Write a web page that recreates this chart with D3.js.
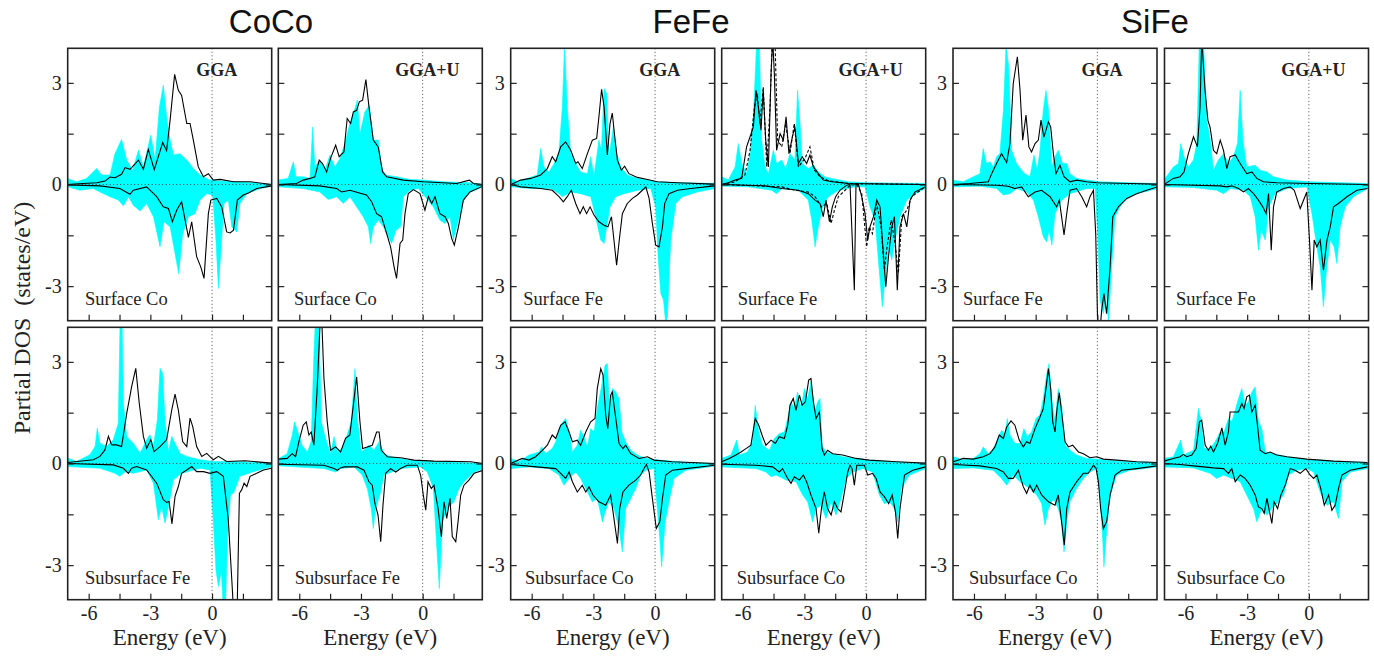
<!DOCTYPE html>
<html>
<head>
<meta charset="utf-8">
<script src="https://cdn.jsdelivr.net/npm/d3@7"></script>
<style>
  body { margin: 0; background: #fff; }
  svg { display: block; }
</style>
</head>
<body>
<div id="chart"></div>
<script>
// Partial DOS, [energy (eV), states/eV]; cyan = filled curve, black = line curve
// ---- CoCo ----
var coSurfGgaFillUp = [[-7.02,0.18],[-6.59,0.08],[-6.1,0.18],[-5.61,0.47],[-5.37,0.28],[-4.96,0.28],[-4.72,0.91],[-4.4,1.33],[-4.15,0.72],[-3.86,0.42],[-3.58,1.01],[-3.34,0.52],[-2.98,1.46],[-2.77,0.72],[-2.56,2.29],[-2.37,2.93],[-2.21,2.0],[-2.04,1.31],[-1.88,0.87],[-1.56,0.91],[-1.23,0.72],[-0.91,0.47],[-0.58,0.28],[-0.18,0.15],[0.23,0.11],[1.04,0.08],[2.01,0.05],[2.9,0.01]];
var coSurfGgaFillDn = [[-7.02,-0.07],[-6.42,-0.17],[-5.77,-0.12],[-5.45,-0.22],[-4.96,-0.36],[-4.56,-0.46],[-4.31,-0.63],[-4.07,-0.36],[-3.83,-0.61],[-3.5,-0.78],[-3.18,-0.56],[-2.85,-0.95],[-2.53,-1.84],[-2.34,-1.1],[-2.04,-1.25],[-1.8,-2.04],[-1.62,-2.63],[-1.43,-1.45],[-1.15,-0.95],[-0.83,-0.86],[-0.58,-0.46],[-0.26,-0.27],[0.03,-0.31],[0.19,-1.64],[0.31,-3.07],[0.44,-1.84],[0.58,-0.56],[0.79,-0.46],[0.96,-1.25],[1.2,-1.4],[1.36,-0.56],[1.69,-0.27],[2.34,-0.12],[2.9,-0.05]];
var coSurfGgaLineUp = [[-7.02,0],[-6.5,0.02],[-5.6,0.05],[-5.2,0.1],[-4.96,0.22],[-4.72,0.2],[-4.4,0.3],[-4.23,0.5],[-3.99,0.45],[-3.58,0.72],[-3.34,0.45],[-3.1,1.03],[-2.81,0.44],[-2.4,1.24],[-2.21,1.0],[-2.04,1.9],[-1.82,3.25],[-1.64,2.78],[-1.48,2.63],[-1.23,1.8],[-1.07,1.8],[-0.91,1.31],[-0.67,0.52],[-0.42,0.23],[-0.18,0.32],[0.06,0.13],[0.39,0.15],[1.04,0.08],[1.85,0.08],[2.9,0]];
var coSurfGgaLineDn = [[-7.02,-0.01],[-5.45,-0.04],[-4.48,-0.12],[-3.99,-0.29],[-3.83,-0.17],[-3.18,-0.07],[-2.69,-0.36],[-2.37,-0.66],[-2.12,-0.71],[-1.93,-1.1],[-1.72,-0.76],[-1.48,-0.51],[-1.15,-1.56],[-0.99,-1.1],[-0.75,-2.13],[-0.55,-2.43],[-0.39,-2.77],[-0.18,-0.86],[-0.06,-0.46],[0.23,-0.41],[0.47,-0.66],[0.71,-1.4],[0.88,-1.43],[1.04,-1.35],[1.23,-0.46],[1.52,-0.31],[1.77,-0.25],[2.17,-0.12],[2.9,-0.04]];

var coSurfUFillUp = [[-7.02,0.13],[-6.54,0.18],[-6.29,0.67],[-6.16,0.23],[-5.81,0.23],[-5.48,0.18],[-5.35,1.7],[-5.24,0.52],[-5.0,0.72],[-4.75,0.42],[-4.51,0.87],[-4.27,0.52],[-4.02,0.77],[-3.78,1.21],[-3.54,1.8],[-3.29,2.24],[-3.18,2.49],[-3.05,1.5],[-2.81,2.14],[-2.6,2.34],[-2.4,1.31],[-2.16,1.31],[-2.0,0.52],[-1.83,0.28],[-1.27,0.23],[-0.62,0.15],[0.03,0.13],[1.01,0.08],[2.3,0.05],[2.95,0.01]];
var coSurfUFillDn = [[-7.02,-0.07],[-5.81,-0.12],[-5.0,-0.22],[-4.59,-0.44],[-4.18,-0.36],[-3.86,-0.56],[-3.54,-0.36],[-3.21,-0.66],[-2.89,-0.95],[-2.64,-1.25],[-2.53,-1.74],[-2.4,-1.25],[-2.16,-1.05],[-1.91,-1.25],[-1.67,-1.54],[-1.51,-1.74],[-1.3,-1.35],[-1.07,-1.25],[-0.94,-0.36],[-0.62,-0.17],[-0.21,-0.12],[0.19,-0.41],[0.52,-0.66],[0.84,-1.05],[1.09,-1.15],[1.33,-0.95],[1.49,-1.64],[1.74,-1.05],[1.98,-0.46],[2.3,-0.22],[2.95,-0.07]];
var coSurfULineUp = [[-7.02,0],[-6.13,0.03],[-5.81,0.13],[-5.48,0.18],[-5.24,0.23],[-5.03,0.72],[-4.87,0.62],[-4.67,0.37],[-4.48,0.77],[-4.23,1.16],[-4.06,0.82],[-3.83,0.96],[-3.67,1.95],[-3.5,1.8],[-3.37,2.14],[-3.21,2.19],[-3.08,2.44],[-2.92,2.49],[-2.76,3.1],[-2.61,2.29],[-2.4,1.31],[-2.16,1.11],[-1.95,0.37],[-1.75,0.23],[-0.94,0.13],[0.03,0.08],[1.65,0.03],[2.27,0.13],[2.47,0.03],[2.95,0]];
var coSurfULineDn = [[-7.02,0],[-5.0,-0.04],[-4.18,-0.12],[-3.94,-0.22],[-3.54,-0.17],[-2.73,-0.31],[-2.48,-0.51],[-2.24,-0.86],[-2.0,-0.95],[-1.75,-1.45],[-1.56,-1.84],[-1.39,-2.43],[-1.27,-2.77],[-1.1,-1.74],[-0.97,-1.64],[-0.86,-0.86],[-0.7,-0.27],[-0.45,-0.15],[-0.13,-0.27],[0.11,-0.76],[0.28,-0.36],[0.44,-0.56],[0.6,-0.36],[0.84,-0.86],[1.09,-0.95],[1.25,-1.15],[1.41,-1.59],[1.54,-1.79],[1.74,-1.25],[1.98,-0.46],[2.3,-0.22],[2.95,-0.04]];

var coSubGgaFillUp = [[-7.02,0.16],[-6.59,0.06],[-5.94,0.26],[-5.69,0.5],[-5.58,1.04],[-5.45,0.6],[-5.13,0.5],[-4.8,0.7],[-4.56,1.19],[-4.47,4.3],[-4.38,4.3],[-4.31,1.78],[-4.15,0.8],[-3.83,0.6],[-3.5,0.3],[-3.18,0.7],[-3.02,0.85],[-2.85,0.5],[-2.66,1.29],[-2.53,2.81],[-2.4,2.66],[-2.29,1.29],[-2.12,0.35],[-1.96,0.8],[-1.8,0.6],[-1.56,0.3],[-1.23,0.21],[-0.58,0.11],[0.06,0.06],[1.04,0.06],[2.9,0.01]];
var coSubGgaFillDn = [[-7.02,-0.09],[-5.45,-0.14],[-4.72,-0.29],[-4.48,-0.38],[-4.23,-0.24],[-3.83,-0.29],[-3.18,-0.19],[-2.85,-0.58],[-2.61,-1.66],[-2.45,-1.27],[-2.29,-1.76],[-2.12,-1.27],[-1.88,-0.48],[-1.48,-0.29],[-0.58,-0.14],[-0.1,-0.19],[0.06,-1.66],[0.19,-3.14],[0.31,-3.63],[0.45,-3.2],[0.55,-4.3],[0.65,-4.3],[0.75,-2.2],[0.9,-0.9],[1.04,-0.88],[1.36,-0.38],[2.01,-0.24],[2.9,-0.09]];
var coSubGgaLineUp = [[-7.02,0.03],[-5.77,0.11],[-5.45,0.21],[-5.21,0.4],[-5.04,0.8],[-4.88,0.55],[-4.64,0.55],[-4.4,0.5],[-4.15,1.48],[-3.91,2.27],[-3.71,2.81],[-3.54,1.78],[-3.34,0.8],[-3.18,0.45],[-2.98,0.7],[-2.82,0.35],[-2.53,0.5],[-2.21,0.7],[-1.96,1.58],[-1.8,2.05],[-1.64,1.58],[-1.43,0.65],[-1.23,0.5],[-1.07,1.34],[-0.94,1.09],[-0.75,0.5],[-0.5,0.21],[-0.26,0.3],[0.06,0.11],[0.31,0.21],[0.71,0.06],[1.61,0.08],[2.9,0.01]];
var coSubGgaLineDn = [[-7.02,0],[-4.8,-0.04],[-4.31,-0.14],[-4.07,-0.29],[-3.91,-0.14],[-3.67,-0.09],[-3.18,-0.19],[-2.69,-0.58],[-2.37,-1.07],[-2.21,-1.15],[-2.09,-1.12],[-1.95,-1.78],[-1.8,-0.97],[-1.64,-0.68],[-1.48,-0.29],[-1.23,-0.19],[-0.99,-0.09],[-0.75,-0.24],[-0.42,-0.24],[-0.1,-0.29],[0.23,-0.24],[0.55,-0.38],[0.79,-1.66],[0.96,-3.43],[1.04,-4.3],[1.22,-4.3],[1.33,-0.88],[1.44,-0.78],[1.56,-0.58],[1.69,-0.68],[1.85,-0.38],[2.17,-0.29],[2.5,-0.19],[2.9,-0.14]];

var coSubUFillUp = [[-7.0,0.15],[-6.59,0.29],[-6.34,0.84],[-6.23,1.23],[-6.07,0.93],[-5.86,0.54],[-5.61,0.34],[-5.42,0.64],[-5.29,3.2],[-5.21,4.3],[-5.04,4.3],[-4.93,1.23],[-4.72,0.74],[-4.48,0.29],[-4.31,0.79],[-4.15,0.34],[-3.91,0.44],[-3.67,0.84],[-3.47,1.23],[-3.29,2.8],[-3.18,1.33],[-2.98,0.34],[-2.61,0.54],[-2.37,0.39],[-2.12,0.64],[-1.88,0.29],[-1.56,0.2],[-0.75,0.1],[0.06,0.07],[1.2,0.05],[2.95,0]];
var coSubUFillDn = [[-7.0,-0.07],[-4.8,-0.15],[-4.23,-0.25],[-3.99,-0.15],[-3.34,-0.1],[-2.94,-0.34],[-2.69,-0.74],[-2.5,-1.33],[-2.4,-1.92],[-2.29,-1.33],[-2.08,-0.93],[-1.88,-0.34],[-1.07,-0.15],[-0.1,-0.1],[0.23,-0.25],[0.52,-0.74],[0.71,-2.7],[0.81,-3.69],[0.96,-1.72],[1.2,-1.33],[1.52,-1.13],[1.77,-0.74],[2.01,-0.54],[2.5,-0.25],[2.95,-0.15]];
var coSubULineUp = [[-7.0,0.13],[-6.59,0.15],[-6.34,0.29],[-6.18,0.2],[-6.02,0.64],[-5.81,1.13],[-5.66,1.23],[-5.53,0.84],[-5.42,0.93],[-5.29,0.54],[-5.13,2.21],[-5.0,3.98],[-4.91,4.3],[-4.8,2.51],[-4.64,1.23],[-4.48,0.39],[-4.23,0.49],[-3.99,0.34],[-3.75,0.74],[-3.54,0.84],[-3.41,1.52],[-3.21,2.56],[-3.05,1.23],[-2.92,0.44],[-2.69,0.49],[-2.45,0.54],[-2.24,0.93],[-2.12,0.93],[-2.01,0.39],[-1.72,0.2],[-1.07,0.17],[-0.42,0.1],[0.55,0.07],[2.34,0.05],[2.95,0]];
var coSubULineDn = [[-7.0,-0.02],[-4.8,-0.05],[-4.31,-0.15],[-4.15,-0.2],[-3.99,-0.13],[-3.83,-0.1],[-3.18,-0.1],[-2.85,-0.2],[-2.61,-0.54],[-2.45,-0.64],[-2.32,-1.18],[-2.17,-1.52],[-2.04,-2.31],[-1.93,-1.23],[-1.8,-0.29],[-1.56,-0.15],[-1.31,-0.25],[-1.07,-0.15],[-0.75,-0.05],[-0.26,-0.05],[-0.1,-0.34],[0.03,-0.93],[0.15,-1.38],[0.26,-0.54],[0.42,-0.74],[0.55,-0.64],[0.75,-1.33],[0.91,-2.16],[1.04,-1.13],[1.17,-1.62],[1.33,-1.03],[1.44,-2.16],[1.61,-2.31],[1.72,-1.72],[1.85,-0.93],[2.01,-0.64],[2.25,-0.49],[2.5,-0.29],[2.95,-0.2]];

// ---- FeFe ----
var feSurfGgaFillUp = [[-7.0,0.18],[-6.7,0.08],[-6.21,0.18],[-5.73,0.28],[-5.56,1.06],[-5.4,0.52],[-5.16,0.37],[-4.91,0.62],[-4.67,0.96],[-4.51,2.29],[-4.4,4.1],[-4.27,2.29],[-4.1,0.91],[-3.86,0.62],[-3.62,0.37],[-3.29,0.32],[-3.13,0.82],[-2.97,0.23],[-2.73,1.31],[-2.61,1.01],[-2.48,2.83],[-2.35,2.68],[-2.24,0.82],[-2.03,1.7],[-1.87,0.91],[-1.67,0.52],[-1.35,0.28],[-0.86,0.18],[-0.37,0.13],[0.11,0.08],[1.41,0.05],[2.9,0.03]];
var feSurfGgaFillDn = [[-7.0,-0.07],[-6.05,-0.12],[-5.08,-0.12],[-4.67,-0.27],[-4.51,-0.36],[-4.1,-0.22],[-3.62,-0.27],[-3.13,-0.36],[-2.89,-0.95],[-2.64,-1.64],[-2.48,-1.74],[-2.35,-1.25],[-2.19,-0.66],[-1.91,-0.36],[-1.51,-0.27],[-0.86,-0.17],[-0.21,-0.12],[0.03,-0.66],[0.15,-2.13],[0.28,-3.22],[0.41,-3.41],[0.52,-4.1],[0.6,-3.9],[0.76,-1.64],[1.01,-0.56],[1.33,-0.36],[2.06,-0.22],[2.9,-0.12]];
var feSurfGgaLineUp = [[-7.0,0],[-6.54,0.13],[-6.05,0.18],[-5.56,0.28],[-5.24,0.47],[-5.0,0.82],[-4.83,0.67],[-4.59,1.11],[-4.35,1.26],[-4.1,1.01],[-3.86,0.62],[-3.75,0.67],[-3.54,0.47],[-3.29,0.91],[-3.05,1.31],[-2.84,1.36],[-2.73,2.0],[-2.6,2.81],[-2.48,2.29],[-2.32,0.87],[-2.19,1.8],[-2.08,2.11],[-1.96,1.41],[-1.83,0.72],[-1.64,0.42],[-1.48,0.54],[-1.27,0.32],[-0.86,0.21],[-0.37,0.15],[0.11,0.08],[1.09,0.05],[2.9,0.01]];
var feSurfGgaLineDn = [[-7.0,0],[-6.54,-0.07],[-5.56,-0.12],[-5.0,-0.17],[-4.67,-0.36],[-4.46,-0.51],[-4.27,-0.36],[-4.07,-0.17],[-3.86,-0.56],[-3.65,-0.86],[-3.49,-0.66],[-3.33,-0.86],[-3.16,-0.66],[-2.97,-0.9],[-2.73,-1.1],[-2.48,-1.2],[-2.29,-1.25],[-2.12,-0.95],[-2.0,-1.64],[-1.87,-2.38],[-1.74,-1.64],[-1.59,-0.86],[-1.35,-0.56],[-1.1,-0.41],[-0.86,-0.31],[-0.62,-0.17],[-0.45,-0.07],[-0.29,-0.41],[-0.13,-1.15],[0.03,-1.79],[0.19,-1.84],[0.36,-1.25],[0.47,-0.56],[0.68,-0.27],[1.09,-0.17],[1.74,-0.12],[2.9,-0.04]];

var feSurfUFillUp = [[-7.02,0.23],[-6.7,0.13],[-6.37,0.52],[-6.21,1.21],[-6.05,0.62],[-5.81,0.32],[-5.64,0.91],[-5.48,2.0],[-5.32,4.2],[-5.19,4.2],[-5.08,1.31],[-4.91,0.52],[-4.75,0.32],[-4.51,1.01],[-4.35,0.62],[-4.1,0.72],[-3.91,0.47],[-3.7,0.91],[-3.46,0.72],[-3.33,2.78],[-3.21,1.8],[-3.1,0.62],[-2.81,0.47],[-2.56,0.57],[-2.32,0.37],[-2.0,0.23],[-1.67,0.18],[-0.86,0.08],[0.11,0.05],[2.87,0.03]];
var feSurfUFillDn = [[-7.02,-0.05],[-5.73,-0.07],[-4.59,-0.17],[-4.35,-0.27],[-4.1,-0.12],[-3.29,-0.17],[-2.81,-0.46],[-2.64,-1.05],[-2.48,-1.84],[-2.32,-1.25],[-2.12,-0.66],[-1.83,-0.36],[-1.35,-0.17],[-0.54,-0.07],[-0.05,-0.07],[0.19,-0.66],[0.44,-1.05],[0.68,-2.82],[0.79,-3.61],[0.92,-2.82],[1.09,-1.84],[1.25,-2.23],[1.41,-1.64],[1.65,-0.95],[1.98,-0.46],[2.38,-0.27],[2.87,-0.12]];
var feSurfULineUp = [[-7.02,0],[-6.7,0.05],[-6.37,0.13],[-6.05,0.18],[-5.81,1.11],[-5.64,1.41],[-5.48,1.7],[-5.35,2.78],[-5.24,2.29],[-5.11,1.6],[-5.0,2.78],[-4.88,1.31],[-4.75,0.52],[-4.62,3.27],[-4.54,4.3],[-4.46,3.27],[-4.35,1.01],[-4.18,1.5],[-4.02,1.31],[-3.89,2.0],[-3.75,0.91],[-3.58,1.41],[-3.46,1.7],[-3.29,0.62],[-3.1,0.82],[-2.89,0.62],[-2.73,0.87],[-2.56,0.52],[-2.32,0.32],[-2.08,0.13],[-1.67,0.08],[-0.86,0.03],[2.87,0]];
var feSurfULineDn = [[-7.02,0],[-4.91,-0.04],[-4.1,-0.12],[-3.29,-0.17],[-2.81,-0.27],[-2.48,-0.46],[-2.24,-0.56],[-2.08,-0.95],[-1.95,-0.46],[-1.78,-1.1],[-1.64,-0.66],[-1.48,-0.36],[-1.27,-0.17],[-0.94,-0.02],[-0.78,0],[-0.67,-1.64],[-0.57,-3.12],[-0.49,0],[-0.37,0],[-0.21,-0.36],[-0.05,-0.86],[0.08,-1.64],[0.19,-1.25],[0.36,-0.95],[0.52,-0.46],[0.68,-0.66],[0.84,-2.04],[0.96,-3.02],[1.09,-2.13],[1.25,-1.25],[1.38,-0.95],[1.52,-3.12],[1.65,-1.25],[1.82,-0.86],[1.98,-1.25],[2.14,-0.46],[2.38,-0.22],[2.87,-0.07]];
var feSurfUDashUp = [[-7.02,0],[-6.37,0.08],[-5.89,0.28],[-5.64,1.01],[-5.43,2.29],[-5.29,2.68],[-5.16,1.8],[-5.0,2.88],[-4.83,0.52],[-4.67,2.29],[-4.56,4.3],[-4.43,4.3],[-4.3,1.31],[-4.1,1.11],[-3.91,1.8],[-3.7,0.91],[-3.49,1.8],[-3.29,0.52],[-2.97,0.77],[-2.73,1.11],[-2.51,0.42],[-2.24,0.23],[-1.83,0.11],[-0.86,0.03],[2.87,0]];
var feSurfUDashDn = [[-7.02,0],[-4.1,-0.07],[-3.46,-0.17],[-2.81,-0.22],[-2.48,-0.36],[-2.16,-0.66],[-1.91,-0.56],[-1.7,-1.15],[-1.54,-0.76],[-1.35,-0.36],[-1.02,-0.17],[-0.78,-0.02],[-0.45,0],[-0.21,-0.27],[0.03,-1.84],[0.15,-1.25],[0.31,-1.45],[0.52,-0.56],[0.73,-1.25],[0.89,-2.53],[1.02,-1.84],[1.22,-1.05],[1.41,-1.74],[1.57,-2.62],[1.74,-0.95],[1.98,-0.76],[2.22,-0.36],[2.87,-0.07]];

var feSubGgaFillUp = [[-7.02,0.15],[-6.62,0.05],[-6.13,0.25],[-5.64,0.34],[-5.52,0.49],[-5.32,0.29],[-5.0,0.44],[-4.83,0.64],[-4.59,1.13],[-4.35,1.33],[-4.18,0.93],[-4.02,0.34],[-3.78,0.54],[-3.62,0.98],[-3.46,0.79],[-3.29,0.49],[-3.13,1.03],[-2.97,0.93],[-2.81,1.62],[-2.56,2.41],[-2.43,2.9],[-2.32,2.95],[-2.21,1.52],[-2.08,2.21],[-1.91,2.11],[-1.75,1.92],[-1.62,0.93],[-1.43,0.64],[-1.18,0.39],[-0.86,0.25],[-0.45,0.15],[0.19,0.1],[1.17,0.05],[2.92,0]];
var feSubGgaFillDn = [[-7.02,-0.15],[-6.13,-0.1],[-5.16,-0.15],[-4.67,-0.34],[-4.43,-0.64],[-4.18,-0.44],[-3.86,-0.25],[-3.62,-0.44],[-3.37,-0.74],[-3.05,-1.13],[-2.81,-1.03],[-2.56,-1.72],[-2.43,-1.43],[-2.24,-1.13],[-2.0,-1.33],[-1.75,-1.92],[-1.59,-2.61],[-1.43,-1.33],[-1.18,-1.03],[-0.94,-0.74],[-0.7,-0.34],[-0.45,-0.2],[-0.05,-0.15],[0.11,-1.33],[0.23,-2.21],[0.32,-3.05],[0.49,-1.72],[0.71,-1.03],[0.92,-0.44],[1.49,-0.2],[2.92,-0.07]];
var feSubGgaLineUp = [[-7.02,0],[-6.46,0.15],[-6.13,0.1],[-5.81,0.2],[-5.48,0.39],[-5.24,0.54],[-5.0,0.84],[-4.83,0.74],[-4.59,1.13],[-4.38,1.23],[-4.18,0.93],[-4.02,0.64],[-3.78,0.69],[-3.62,0.54],[-3.37,0.93],[-3.13,1.23],[-2.92,1.33],[-2.81,2.21],[-2.64,2.8],[-2.53,2.61],[-2.4,1.43],[-2.3,1.03],[-2.16,2.02],[-2.08,2.11],[-1.91,1.33],[-1.75,0.59],[-1.56,0.44],[-1.43,0.54],[-1.18,0.29],[-0.78,0.15],[-0.37,0.2],[-0.05,0.1],[0.84,0.05],[2.92,0]];
var feSubGgaLineDn = [[-7.02,-0.03],[-6.29,-0.07],[-4.83,-0.15],[-4.59,-0.29],[-4.35,-0.44],[-4.18,-0.25],[-4.02,-0.54],[-3.78,-0.84],[-3.54,-0.64],[-3.37,-0.84],[-3.21,-0.69],[-3.02,-0.93],[-2.73,-1.13],[-2.4,-1.23],[-2.16,-0.93],[-2.0,-1.62],[-1.83,-2.36],[-1.72,-1.33],[-1.56,-0.84],[-1.27,-0.64],[-0.94,-0.49],[-0.7,-0.34],[-0.54,-0.15],[-0.42,-0.03],[-0.29,-0.25],[-0.13,-1.03],[0.06,-1.92],[0.23,-1.72],[0.36,-1.03],[0.52,-0.34],[0.84,-0.2],[1.49,-0.15],[2.92,-0.05]];

var feSubUFillUp = [[-7.02,0.15],[-6.57,0.25],[-6.29,0.69],[-6.16,0.25],[-5.76,0.34],[-5.52,0.64],[-5.39,1.72],[-5.22,0.93],[-5.03,0.54],[-4.7,0.39],[-4.46,0.74],[-4.22,0.88],[-3.97,0.93],[-3.81,1.33],[-3.65,1.82],[-3.49,1.62],[-3.33,2.11],[-3.16,1.62],[-3.0,2.21],[-2.84,1.92],[-2.68,2.41],[-2.51,1.52],[-2.35,1.82],[-2.24,1.92],[-2.14,0.54],[-1.95,0.34],[-1.62,0.29],[-1.14,0.2],[-0.49,0.15],[0.16,0.1],[1.46,0.05],[2.89,0]];
var feSubUFillDn = [[-7.02,-0.1],[-5.35,-0.15],[-4.87,-0.25],[-4.62,-0.39],[-4.38,-0.34],[-3.89,-0.49],[-3.41,-0.54],[-3.08,-0.93],[-2.84,-1.13],[-2.6,-1.72],[-2.43,-1.33],[-2.19,-1.23],[-1.95,-1.62],[-1.7,-1.13],[-1.46,-1.52],[-1.22,-1.03],[-0.97,-0.44],[-0.65,-0.25],[-0.16,-0.15],[0.32,-0.25],[0.65,-0.93],[0.89,-1.18],[1.14,-1.13],[1.38,-1.33],[1.54,-1.72],[1.7,-0.74],[2.11,-0.34],[2.89,-0.15]];
var feSubULineUp = [[-7.02,0.05],[-6.65,0.15],[-6.33,0.25],[-6.08,0.34],[-5.84,0.44],[-5.6,0.54],[-5.39,1.33],[-5.22,1.13],[-5.06,0.84],[-4.87,0.54],[-4.62,0.69],[-4.41,0.59],[-4.22,0.79],[-3.97,0.74],[-3.81,1.13],[-3.7,1.72],[-3.54,1.92],[-3.41,1.57],[-3.24,2.02],[-3.11,1.72],[-2.95,1.82],[-2.79,2.46],[-2.68,2.51],[-2.56,1.82],[-2.43,1.33],[-2.27,1.52],[-2.14,0.44],[-2.03,0.25],[-1.87,0.39],[-1.62,0.29],[-1.14,0.25],[-0.49,0.15],[0.16,0.1],[1.46,0.05],[2.89,0.01]];
var feSubULineDn = [[-7.02,-0.02],[-5.35,-0.05],[-4.54,-0.1],[-4.22,-0.25],[-4.06,-0.15],[-3.81,-0.44],[-3.65,-0.59],[-3.49,-0.39],[-3.24,-0.49],[-3.05,-0.34],[-2.89,-0.54],[-2.68,-0.93],[-2.43,-1.33],[-2.3,-2.06],[-2.17,-1.33],[-2.03,-0.84],[-1.87,-1.33],[-1.7,-1.52],[-1.54,-1.13],[-1.38,-1.33],[-1.22,-1.43],[-1.05,-0.84],[-0.89,-0.25],[-0.78,-0.05],[-0.68,-0.15],[-0.57,-0.64],[-0.45,-0.05],[-0.08,-0.05],[0.08,-0.34],[0.32,-0.29],[0.49,-0.44],[0.68,-0.84],[0.89,-0.98],[1.1,-1.18],[1.27,-0.93],[1.43,-1.43],[1.54,-2.21],[1.65,-1.33],[1.87,-0.34],[2.27,-0.2],[2.89,-0.1]];

// ---- SiFe ----
var siSurfGgaFillUp = [[-7.04,0.13],[-6.52,0.08],[-6.03,0.23],[-5.71,0.32],[-5.55,1.06],[-5.39,0.62],[-5.22,0.67],[-5.06,0.52],[-4.9,0.82],[-4.74,0.91],[-4.57,2.19],[-4.44,4.1],[-4.31,3.47],[-4.17,1.01],[-3.93,0.62],[-3.68,0.42],[-3.52,0.32],[-3.28,0.23],[-3.08,0.87],[-2.92,0.42],[-2.79,1.01],[-2.63,2.19],[-2.5,2.78],[-2.37,2.19],[-2.22,0.52],[-2.06,0.82],[-1.9,1.01],[-1.69,0.62],[-1.49,0.62],[-1.33,0.32],[-1.01,0.18],[-0.52,0.13],[0.13,0.08],[1.59,0.05],[2.92,0.03]];
var siSurfGgaFillDn = [[-7.04,-0.07],[-5.71,-0.05],[-4.9,-0.12],[-4.57,-0.31],[-4.25,-0.27],[-3.93,-0.12],[-3.44,-0.22],[-3.11,-0.46],[-2.87,-0.95],[-2.63,-1.54],[-2.47,-1.69],[-2.34,-1.35],[-2.21,-1.79],[-2.06,-0.86],[-1.74,-0.46],[-1.33,-0.27],[-0.52,-0.12],[-0.11,-0.12],[0.02,-1.45],[0.13,-3.41],[0.29,-3.81],[0.45,-3.22],[0.54,-4.1],[0.7,-2.43],[0.86,-0.95],[1.1,-0.66],[1.35,-0.46],[1.91,-0.27],[2.92,-0.12]];
var siSurfGgaLineUp = [[-7.04,0],[-6.2,0.03],[-5.3,0.08],[-5.14,0.32],[-4.9,0.62],[-4.66,0.91],[-4.41,0.65],[-4.25,1.21],[-4.09,2.98],[-3.89,3.77],[-3.76,2.78],[-3.63,1.31],[-3.47,2.05],[-3.33,1.11],[-3.2,0.96],[-3.03,1.21],[-2.87,1.31],[-2.74,1.9],[-2.6,1.4],[-2.38,1.85],[-2.27,1.7],[-2.14,0.91],[-2.01,0.32],[-1.82,0.57],[-1.62,0.23],[-1.33,0.08],[-1.01,0.13],[-0.52,0.08],[-0.03,0.05],[1.59,0.03],[2.92,0.01]];
var siSurfGgaLineDn = [[-7.04,0],[-4.9,-0.02],[-4.33,-0.05],[-4.01,-0.12],[-3.68,-0.07],[-3.36,-0.36],[-3.03,-0.22],[-2.71,-0.17],[-2.3,-0.36],[-1.98,-0.66],[-1.85,-0.46],[-1.74,-0.95],[-1.62,-1.49],[-1.49,-0.86],[-1.33,-0.17],[-1.01,-0.12],[-0.76,-0.36],[-0.52,-0.66],[-0.36,-0.36],[-0.19,-0.17],[-0.08,-1.45],[0.02,-4.3],[0.13,-4.3],[0.21,-3.71],[0.32,-3.22],[0.45,-3.81],[0.62,-2.43],[0.75,-0.95],[1.02,-0.66],[1.43,-0.41],[1.91,-0.27],[2.4,-0.17],[2.92,-0.07]];

var siSurfUFillUp = [[-7.04,0.13],[-6.59,0.52],[-6.34,0.62],[-6.23,1.21],[-6.07,0.82],[-5.86,0.52],[-5.61,0.72],[-5.45,1.21],[-5.32,4.3],[-5.13,4.3],[-4.96,1.9],[-4.8,1.31],[-4.64,0.42],[-4.4,0.72],[-4.15,0.91],[-3.91,0.62],[-3.67,0.82],[-3.47,1.21],[-3.34,2.78],[-3.21,1.31],[-3.02,0.52],[-2.61,0.57],[-2.37,0.42],[-2.04,0.37],[-1.72,0.23],[-1.07,0.13],[0.06,0.08],[2.85,0.03]];
var siSurfUFillDn = [[-7.04,-0.07],[-5.61,-0.09],[-4.48,-0.17],[-4.15,-0.27],[-3.83,-0.12],[-3.18,-0.17],[-2.85,-0.36],[-2.61,-0.95],[-2.45,-1.94],[-2.32,-1.35],[-2.12,-1.64],[-1.96,-0.66],[-1.64,-0.27],[-1.07,-0.12],[-0.1,-0.07],[0.15,-0.86],[0.39,-1.84],[0.55,-2.43],[0.71,-3.61],[0.84,-2.63],[1.04,-1.64],[1.23,-1.84],[1.36,-2.33],[1.52,-1.25],[1.77,-0.66],[2.17,-0.36],[2.85,-0.12]];
var siSurfULineUp = [[-7.04,0],[-6.59,0.18],[-6.26,0.23],[-6.07,0.37],[-5.86,0.91],[-5.61,1.41],[-5.42,1.11],[-5.29,2.29],[-5.21,4.3],[-5.05,2.78],[-4.91,1.9],[-4.8,1.68],[-4.64,1.01],[-4.48,0.91],[-4.31,1.31],[-4.15,1.01],[-3.99,0.47],[-3.83,0.82],[-3.58,0.87],[-3.34,0.62],[-3.02,0.32],[-2.77,0.37],[-2.53,0.18],[-2.21,0.08],[-1.56,0.05],[0.06,0.03],[2.85,0]];
var siSurfULineDn = [[-7.04,0],[-4.31,-0.04],[-3.99,-0.07],[-3.75,-0.04],[-3.42,-0.12],[-3.18,-0.22],[-2.94,-0.12],[-2.69,-0.27],[-2.45,-0.46],[-2.24,-0.66],[-2.08,-0.86],[-1.96,-0.27],[-1.83,-1.94],[-1.72,-0.66],[-1.56,-0.22],[-1.23,-0.12],[-0.91,-0.07],[-0.71,-0.17],[-0.42,-0.71],[-0.1,-0.22],[0.03,-1.64],[0.15,-3.12],[0.26,-1.64],[0.39,-1.84],[0.55,-1.64],[0.71,-2.53],[0.88,-1.64],[1.04,-1.25],[1.2,-0.66],[1.44,-0.56],[1.85,-0.36],[2.34,-0.17],[2.85,-0.12]];

var siSubGgaFillUp = [[-7.0,0.2],[-6.52,0.1],[-6.03,0.15],[-5.71,0.29],[-5.55,0.49],[-5.3,0.29],[-5.06,0.44],[-4.82,0.74],[-4.66,0.98],[-4.49,0.84],[-4.38,1.33],[-4.25,0.84],[-4.01,0.59],[-3.76,0.59],[-3.57,1.03],[-3.41,0.79],[-3.2,0.93],[-2.98,1.33],[-2.79,1.43],[-2.63,1.92],[-2.47,2.61],[-2.35,2.95],[-2.22,1.92],[-2.06,1.23],[-1.9,2.21],[-1.74,1.72],[-1.57,0.54],[-1.33,0.39],[-1.01,0.25],[-0.52,0.15],[-0.03,0.13],[0.94,0.07],[2.92,0.03]];
var siSubGgaFillDn = [[-7.0,-0.15],[-6.03,-0.13],[-5.06,-0.2],[-4.66,-0.44],[-4.41,-0.64],[-4.09,-0.34],[-3.76,-0.54],[-3.28,-0.74],[-2.95,-0.93],[-2.71,-1.18],[-2.55,-1.82],[-2.38,-1.33],[-2.14,-1.03],[-1.9,-1.33],[-1.74,-1.72],[-1.62,-2.61],[-1.49,-1.72],[-1.33,-1.13],[-1.01,-0.74],[-0.68,-0.44],[-0.36,-0.25],[-0.03,-0.15],[0.13,-0.93],[0.26,-2.21],[0.32,-3.05],[0.42,-2.21],[0.62,-0.93],[0.94,-0.34],[1.59,-0.2],[2.92,-0.1]];
var siSubGgaLineUp = [[-7.0,0.05],[-6.52,0.15],[-6.03,0.13],[-5.55,0.2],[-5.22,0.29],[-4.98,0.49],[-4.77,0.84],[-4.57,0.74],[-4.41,1.08],[-4.2,1.26],[-4.01,1.13],[-3.8,0.69],[-3.6,0.49],[-3.44,0.64],[-3.28,0.59],[-3.03,1.03],[-2.82,1.33],[-2.63,1.62],[-2.5,2.21],[-2.38,2.8],[-2.27,2.21],[-2.17,1.23],[-2.06,0.93],[-1.96,1.62],[-1.85,2.09],[-1.74,1.52],[-1.57,0.64],[-1.41,0.49],[-1.2,0.54],[-0.92,0.34],[-0.68,0.29],[-0.36,0.17],[-0.03,0.2],[0.29,0.13],[0.94,0.1],[1.91,0.05],[2.92,0.03]];
var siSubGgaLineDn = [[-7.0,-0.03],[-5.71,-0.07],[-4.9,-0.15],[-4.57,-0.25],[-4.33,-0.44],[-4.09,-0.44],[-3.84,-0.2],[-3.6,-0.69],[-3.44,-0.88],[-3.28,-0.64],[-3.11,-0.84],[-2.95,-0.64],[-2.71,-0.93],[-2.38,-1.13],[-2.06,-1.23],[-1.9,-0.93],[-1.74,-1.72],[-1.61,-2.41],[-1.49,-1.33],[-1.33,-0.84],[-1.01,-0.54],[-0.68,-0.29],[-0.44,-0.29],[-0.19,-0.05],[-0.06,-0.15],[0.05,-0.54],[0.16,-1.33],[0.29,-1.92],[0.45,-1.72],[0.62,-0.93],[0.86,-0.34],[1.18,-0.2],[1.91,-0.15],[2.92,-0.07]];

var siSubUFillUp = [[-7.04,0.15],[-6.59,0.2],[-6.34,0.54],[-6.23,0.69],[-6.1,0.25],[-5.61,0.39],[-5.37,1.62],[-5.26,1.33],[-5.09,0.44],[-4.8,0.44],[-4.56,0.64],[-4.31,0.93],[-4.12,0.93],[-3.91,1.33],[-3.75,1.23],[-3.58,1.57],[-3.42,1.92],[-3.26,2.21],[-3.1,1.72],[-2.94,1.82],[-2.77,2.11],[-2.61,2.26],[-2.45,1.23],[-2.29,1.03],[-2.12,0.34],[-1.72,0.29],[-1.07,0.2],[-0.1,0.12],[1.2,0.07],[2.85,0.03]];
var siSubUFillDn = [[-7.04,-0.1],[-5.61,-0.13],[-4.8,-0.29],[-4.48,-0.44],[-4.15,-0.34],[-3.75,-0.44],[-3.34,-0.54],[-3.02,-0.93],[-2.69,-1.33],[-2.53,-1.72],[-2.29,-1.33],[-2.04,-1.52],[-1.8,-1.33],[-1.48,-1.13],[-1.23,-0.93],[-0.99,-0.34],[-0.58,-0.2],[-0.1,-0.15],[0.23,-0.25],[0.55,-0.84],[0.88,-1.23],[1.2,-1.13],[1.44,-1.62],[1.61,-0.54],[2.01,-0.25],[2.85,-0.15]];
var siSubULineUp = [[-7.04,0.07],[-6.59,0.15],[-6.26,0.2],[-6.1,0.27],[-5.94,0.2],[-5.69,0.25],[-5.48,0.44],[-5.32,1.23],[-5.21,1.28],[-5.04,0.54],[-4.88,0.39],[-4.77,0.51],[-4.64,0.34],[-4.44,0.59],[-4.23,1.05],[-4.07,0.54],[-3.91,0.93],[-3.83,1.52],[-3.42,1.52],[-3.26,1.77],[-3.15,1.62],[-3.02,1.97],[-2.89,2.02],[-2.77,1.52],[-2.61,1.72],[-2.5,1.13],[-2.37,0.39],[-2.12,0.29],[-1.88,0.34],[-1.56,0.25],[-1.07,0.2],[-0.1,0.13],[1.2,0.07],[2.85,0.03]];
var siSubULineDn = [[-7.04,0],[-6.26,-0.03],[-5.61,-0.07],[-4.64,-0.13],[-4.15,-0.15],[-3.91,-0.29],[-3.75,-0.15],[-3.58,-0.54],[-3.34,-0.34],[-3.1,-0.44],[-2.85,-0.64],[-2.61,-0.93],[-2.45,-1.28],[-2.29,-1.33],[-2.17,-1.47],[-2.04,-1.03],[-1.91,-1.43],[-1.8,-1.77],[-1.69,-1.13],[-1.52,-1.33],[-1.36,-0.93],[-1.15,-0.64],[-0.91,-0.15],[-0.67,-0.2],[-0.42,-0.29],[-0.15,-0.15],[0.06,-0.34],[0.23,-0.44],[0.39,-0.34],[0.58,-0.74],[0.75,-1.23],[0.96,-0.93],[1.12,-1.38],[1.28,-1.23],[1.44,-0.74],[1.61,-0.34],[2.01,-0.2],[2.85,-0.1]];

var groupNames = ["CoCo", "FeFe", "SiFe"];
var methodNames = ["GGA", "GGA+U"];
var topSites = ["Surface Co", "Surface Co", "Surface Fe", "Surface Fe", "Surface Fe", "Surface Fe"];
var bottomSites = ["Subsurface Fe", "Subsurface Fe", "Subsurface Co", "Subsurface Co", "Subsurface Co", "Subsurface Co"];
var xTicks = [-6, -4.5, -3, -1.5, 0, 1.5];
var xTickLabels = [-6, -3, 0];
var yTicks = [-3, -1.5, 0, 1.5, 3];
var yTickLabels = [-3, 0, 3];

// layout
var svgW = 1374, svgH = 656;
var colLeft = [67.7, 278.3, 510.7, 721.7, 953, 1164.5];
var rowTop = [48.3, 327.3];
var pw = 204, ph = 272.4;
var titleX = [271, 691, 1155];
var siteDx = [[17.3, 15.7, 12.6, 16, 10, 11.5], [17.3, 16.4, 14.3, 15, 16, 12]];
var serif = "'Liberation Serif', 'Times New Roman', Times, serif";
var sans = "'Liberation Sans', Arial, Helvetica, sans-serif";

var panels = [
  {col:0,row:0,fill:[coSurfGgaFillUp,coSurfGgaFillDn],line:[coSurfGgaLineUp,coSurfGgaLineDn],dash:[]},
  {col:1,row:0,fill:[coSurfUFillUp,coSurfUFillDn],line:[coSurfULineUp,coSurfULineDn],dash:[]},
  {col:2,row:0,fill:[feSurfGgaFillUp,feSurfGgaFillDn],line:[feSurfGgaLineUp,feSurfGgaLineDn],dash:[]},
  {col:3,row:0,fill:[feSurfUFillUp,feSurfUFillDn],line:[feSurfULineUp,feSurfULineDn],dash:[feSurfUDashUp,feSurfUDashDn]},
  {col:4,row:0,fill:[siSurfGgaFillUp,siSurfGgaFillDn],line:[siSurfGgaLineUp,siSurfGgaLineDn],dash:[]},
  {col:5,row:0,fill:[siSurfUFillUp,siSurfUFillDn],line:[siSurfULineUp,siSurfULineDn],dash:[]},
  {col:0,row:1,fill:[coSubGgaFillUp,coSubGgaFillDn],line:[coSubGgaLineUp,coSubGgaLineDn],dash:[]},
  {col:1,row:1,fill:[coSubUFillUp,coSubUFillDn],line:[coSubULineUp,coSubULineDn],dash:[]},
  {col:2,row:1,fill:[feSubGgaFillUp,feSubGgaFillDn],line:[feSubGgaLineUp,feSubGgaLineDn],dash:[]},
  {col:3,row:1,fill:[feSubUFillUp,feSubUFillDn],line:[feSubULineUp,feSubULineDn],dash:[]},
  {col:4,row:1,fill:[siSubGgaFillUp,siSubGgaFillDn],line:[siSubGgaLineUp,siSubGgaLineDn],dash:[]},
  {col:5,row:1,fill:[siSubUFillUp,siSubUFillDn],line:[siSubULineUp,siSubULineDn],dash:[]}
];

var x = d3.scaleLinear().domain([-7.02, 2.9]).range([0, pw]);
var y = d3.scaleLinear().domain([-4.02, 4.02]).range([ph, 0]);

var area = d3.area().x(d => x(d[0])).y0(y(0)).y1(d => y(d[1]));
var line = d3.line().x(d => x(d[0])).y(d => y(d[1]));

var svg = d3.select("#chart").append("svg")
  .attr("width", svgW)
  .attr("height", svgH);

svg.append("rect").attr("width", svgW).attr("height", svgH).attr("fill", "#fff");

panels.forEach(function(p, i) {
  var g = svg.append("g")
    .attr("transform", `translate(${colLeft[p.col]},${rowTop[p.row]})`);

  svg.append("clipPath").attr("id", "clip" + i)
    .append("rect").attr("width", pw).attr("height", ph);

  var plot = g.append("g").attr("clip-path", `url(#clip${i})`);

  p.fill.forEach(function(s) {
    plot.append("path").datum(s)
      .attr("d", area)
      .attr("fill", "#00ffff")
      .attr("stroke", "#00ffff")
      .attr("stroke-width", 0.6);
  });

  // zero reference lines
  plot.append("line")
    .attr("x1", 0).attr("x2", pw).attr("y1", y(0)).attr("y2", y(0))
    .attr("stroke", "#444").attr("stroke-width", 1).attr("stroke-dasharray", "1,2.5");
  plot.append("line")
    .attr("x1", x(0)).attr("x2", x(0)).attr("y1", 0).attr("y2", ph)
    .attr("stroke", "#444").attr("stroke-width", 1).attr("stroke-dasharray", "1,2.5");

  p.dash.forEach(function(s) {
    plot.append("path").datum(s)
      .attr("d", line)
      .attr("fill", "none")
      .attr("stroke", "#000")
      .attr("stroke-width", 1.1)
      .attr("stroke-dasharray", "3,2");
  });
  p.line.forEach(function(s) {
    plot.append("path").datum(s)
      .attr("d", line)
      .attr("fill", "none")
      .attr("stroke", "#000")
      .attr("stroke-width", 1.1);
  });

  // axes with inward ticks
  var showY = p.col % 2 === 0;
  var left = g.append("g")
    .call(d3.axisLeft(y).tickValues(yTicks).tickSize(-6).tickPadding(6)
      .tickFormat(d => showY && yTickLabels.includes(d) ? String(d) : ""));
  var right = g.append("g").attr("transform", `translate(${pw},0)`)
    .call(d3.axisRight(y).tickValues(yTicks).tickSize(-6).tickFormat(""));
  var bottom = g.append("g").attr("transform", `translate(0,${ph})`)
    .call(d3.axisBottom(x).tickValues(xTicks).tickSize(-6).tickPadding(6)
      .tickFormat(d => p.row === 1 && xTickLabels.includes(d) ? String(d) : ""));

  [left, right, bottom].forEach(function(a) {
    a.select(".domain").remove();
    a.attr("font-family", serif).attr("font-size", 20).attr("color", "#222");
    a.selectAll("line").attr("stroke-width", 1.2);
  });

  g.append("rect")
    .attr("width", pw).attr("height", ph)
    .attr("fill", "none").attr("stroke", "#222").attr("stroke-width", 1.6);

  if (p.row === 0) {
    g.append("text")
      .attr("x", 149).attr("y", 28)
      .attr("text-anchor", "middle")
      .attr("font-family", serif).attr("font-weight", "bold").attr("font-size", 18)
      .attr("fill", "#222")
      .text(methodNames[p.col % 2]);
  }

  g.append("text")
    .attr("x", siteDx[p.row][p.col]).attr("y", ph - 16)
    .attr("font-family", serif).attr("font-size", 18.5)
    .attr("fill", "#222")
    .text(p.row === 0 ? topSites[p.col] : bottomSites[p.col]);

  if (p.row === 1) {
    g.append("text")
      .attr("x", pw / 2).attr("y", ph + 45)
      .attr("text-anchor", "middle")
      .attr("font-family", serif).attr("font-size", 23)
      .attr("fill", "#222")
      .text("Energy (eV)");
  }
});

groupNames.forEach(function(n, i) {
  svg.append("text")
    .attr("x", titleX[i]).attr("y", 33)
    .attr("text-anchor", "middle")
    .attr("font-family", sans).attr("font-size", 33)
    .attr("fill", "#111")
    .text(n);
});

svg.append("text")
  .attr("transform", "translate(30,318) rotate(-90)")
  .attr("text-anchor", "middle")
  .attr("font-family", serif).attr("font-size", 24)
  .attr("fill", "#222")
  .style("white-space", "pre")
  .text("Partial DOS  (states/eV)");
</script>
</body>
</html>
